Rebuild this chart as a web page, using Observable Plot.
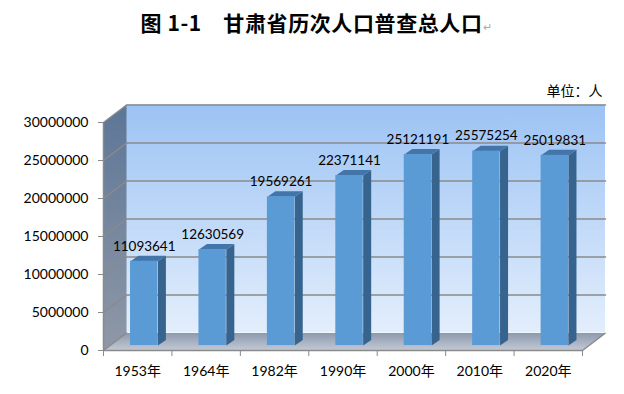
<!DOCTYPE html>
<html><head><meta charset="utf-8">
<script src="https://cdn.jsdelivr.net/npm/d3@7"></script>
<script src="https://cdn.jsdelivr.net/npm/@observablehq/plot@0.6"></script>
<style>
body{margin:0;background:#fff;}
#title{height:44px;line-height:44px;text-align:center;font-family:"Noto Sans CJK SC",sans-serif;font-weight:700;font-size:21px;letter-spacing:0.6px;color:#000;white-space:pre;padding-left:8px;}
#title .ret{color:#aaa;font-size:11px;font-weight:400;letter-spacing:0;}
#chart svg{overflow:visible;}
</style></head><body>
<div id="title">图 1-1　甘肃省历次人口普查总人口<span class="ret">↵</span></div>
<div id="chart"></div>
<script>
const years = ["1953年","1964年","1982年","1990年","2000年","2010年","2020年"];
const population = [11093641,12630569,19569261,22371141,25121191,25575254,25019831];
const yTicks = [0,5000000,10000000,15000000,20000000,25000000,30000000];
const unitLabel = "单位：人";

const W = 624, H = 350, mL = 103, mR = 42, mT = 78, mB = 44;
const yMax = 30000000;
const nCat = years.length;
const kx = (W - mL - mR) / nCat, ky = (H - mT - mB) / yMax;
const DX = 23, DY = 17.5;      // wall depth (px)
const OX = 6.5, OY = 5;        // bar position in depth (px)
const BDX = 8, BDY = 5.5;      // bar depth (px)
const BW = 0.4;                // bar width (fraction of band)
const ddx = DX / kx, ddy = DY / ky;
const bdx = BDX / kx, bdy = BDY / ky;

const leftWall = [{x:0,y:0},{x:0,y:yMax},{x:ddx,y:yMax+ddy},{x:ddx,y:ddy}];
const floor = [{x:0,y:0},{x:nCat,y:0},{x:nCat+ddx,y:ddy},{x:ddx,y:ddy}];
const gridPts = yTicks.flatMap(v => v === 0
  ? [{x:0,y:v,z:v},{x:ddx,y:v+ddy,z:v}]
  : [{x:0,y:v,z:v},{x:ddx,y:v+ddy,z:v},{x:nCat+ddx,y:v+ddy,z:v}]);

const bars = population.map((v,i) => ({i, v, x1: i + 0.5 - BW/2, x2: i + 0.5 + BW/2}));
const sides = bars.flatMap(b => [
  {x:b.x2,y:0,z:b.i},{x:b.x2,y:b.v,z:b.i},{x:b.x2+bdx,y:b.v+bdy,z:b.i},{x:b.x2+bdx,y:bdy,z:b.i}]);
const tops = bars.flatMap(b => [
  {x:b.x1,y:b.v,z:b.i},{x:b.x2,y:b.v,z:b.i},{x:b.x2+bdx,y:b.v+bdy,z:b.i},{x:b.x1+bdx,y:b.v+bdy,z:b.i}]);

const defs = () => {
  const d = d3.create("svg:defs");
  const grad = (id, stops) => {
    const g = d.append("linearGradient").attr("id", id).attr("x1",0).attr("y1",0).attr("x2",0).attr("y2",1);
    stops.forEach(([o,c]) => g.append("stop").attr("offset", o).attr("stop-color", c));
  };
  grad("gBack", [[0,"#9cc3f4"],[1,"#e3eefc"]]);
  grad("gLeft", [[0,"#5d7696"],[1,"#8f98a7"]]);
  grad("gFloor", [[0,"#8c99ae"],[1,"#c4cad4"]]);
  return d.node();
};

const chart = Plot.plot({
  width: W, height: H,
  marginLeft: mL, marginRight: mR, marginTop: mT, marginBottom: mB,
  style: {fontFamily: "Lato, 'Noto Sans CJK SC', sans-serif", fontSize: "14px", background: "transparent", overflow: "visible"},
  x: {type: "linear", domain: [0, nCat], axis: null},
  y: {type: "linear", domain: [0, yMax], axis: null},
  marks: [
    defs,
    Plot.rect([{x1:0,x2:nCat,y1:0,y2:yMax}], {x1:"x1", x2:"x2", y1:"y1", y2:"y2", dx: DX, dy: -DY, fill: "url(#gBack)"}),
    Plot.line(leftWall, {x:"x", y:"y", fill:"url(#gLeft)", stroke:"none"}),
    Plot.line(floor, {x:"x", y:"y", fill:"url(#gFloor)", stroke:"none"}),
    Plot.line(gridPts, {x:"x", y:"y", z:"z", stroke:"#8a8a8a", strokeWidth:1.5}),
    Plot.ruleX([0], {y1:0, y2:yMax, stroke:"#8a8a8a", strokeWidth:1.5}),
    Plot.ruleY([0], {x1:0, x2:nCat, stroke:"#8a8a8a", strokeWidth:1.5}),
    Plot.link([{x1:nCat,y1:0,x2:nCat+ddx,y2:ddy}], {x1:"x1",y1:"y1",x2:"x2",y2:"y2", stroke:"#8a8a8a", strokeWidth:1.5}),
    Plot.line(sides, {x:"x", y:"y", z:"z", fill:"#37648e", stroke:"none", dx: OX, dy: -OY}),
    Plot.line(tops, {x:"x", y:"y", z:"z", fill:"#4275a9", stroke:"none", dx: OX, dy: -OY}),
    Plot.rect(bars, {x1:"x1", x2:"x2", y1:0, y2:"v", fill:"#5b9bd5", dx: OX, dy: -OY}),
    Plot.text(bars, {x: d => d.i + 0.5, y: "v", text: d => String(d.v), dx: OX, dy: -OY - 15, fontSize: 13.5, fill: "#000"}),
    Plot.axisY(yTicks, {tickSize: 5, tickPadding: 10, tickFormat: d => String(d), stroke: "#8a8a8a", fill: "#000", fontSize: 14}),
    Plot.axisX(d3.range(nCat + 1), {tickSize: 6, tickFormat: () => "", stroke: "#8a8a8a"}),
    Plot.axisX(d3.range(nCat).map(i => i + 0.5), {tickSize: 0, tickPadding: 16, tickFormat: d => years[Math.floor(d)], fill: "#000", fontSize: 14}),
    Plot.text([unitLabel], {frameAnchor: "top-right", dx: 20, dy: -31, textAnchor: "end", lineAnchor: "middle", fontSize: 14, fontFamily: "'Noto Sans CJK SC', sans-serif", fill: "#000"})
  ]
});
document.getElementById("chart").appendChild(chart);
</script>
</body></html>
